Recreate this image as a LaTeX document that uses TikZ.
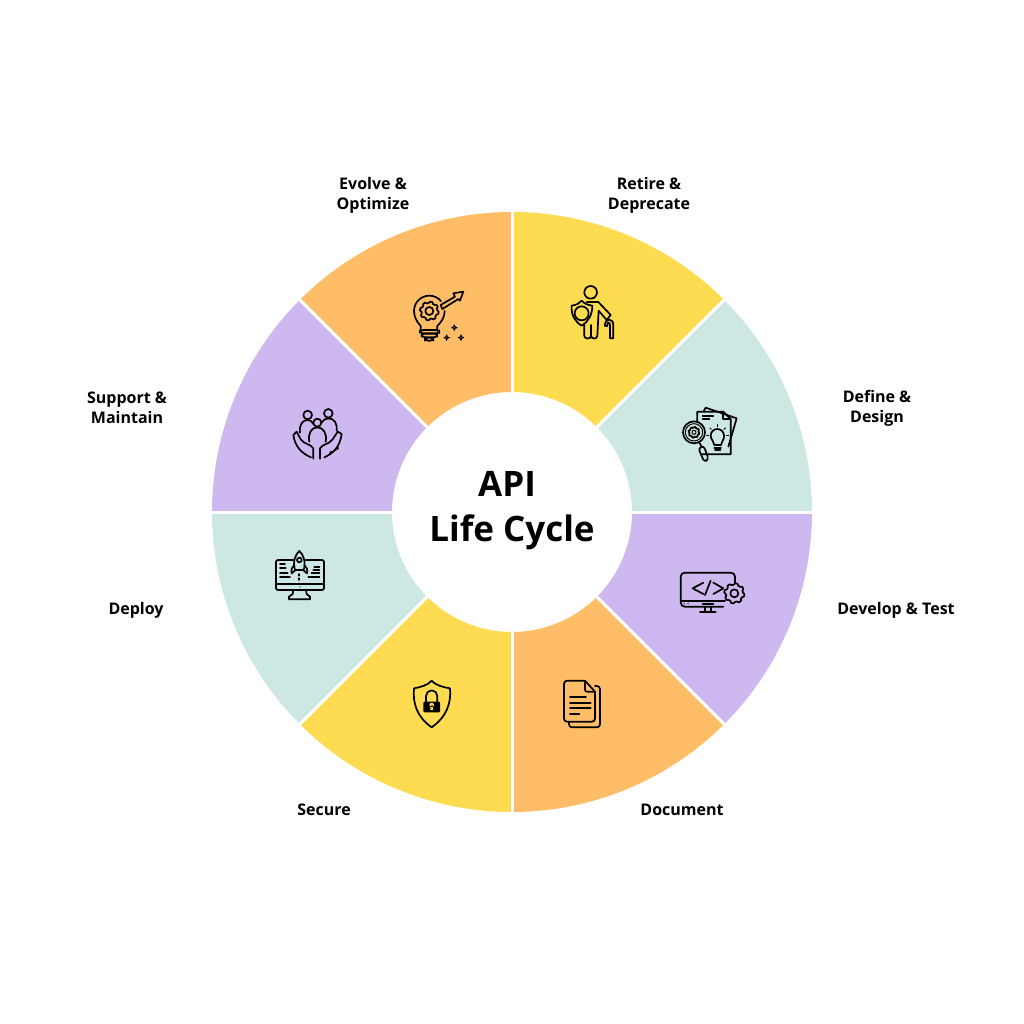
\documentclass[tikz,border=0pt]{standalone}
\usepackage{fontspec}
\setmainfont{Open Sans}
\usetikzlibrary{calc}

\tikzset{
    gearicon/.pic={
        \draw[iconline] plot[domain=0:360,samples=121] (\x:{#1*(1+.14*max(-.6,min(.6,sin(8*\x))))}) -- cycle;
    },
    iconline/.style={draw=black,line width=1.7pt,line join=round,line cap=round},
    crop/.style 2 args={shift={(#1,#2)},x=.3333pt,y=-.3333pt},
    lifelabel/.style={font=\fontsize{16}{20}\selectfont\bfseries,align=center,text=black,inner sep=0pt},
    lifetitle/.style={font=\fontsize{35}{40}\selectfont\bfseries,text=black,inner sep=0pt}
}
\definecolor{lifeyellow}{HTML}{FDDC51}
\definecolor{lifeorange}{HTML}{FFBD68}
\definecolor{lifepurple}{HTML}{CEB8F0}
\definecolor{lifeteal}{HTML}{CDE8E4}

\begin{document}
\begin{tikzpicture}[x=1pt,y=-1pt]
    \useasboundingbox (0,0) rectangle (1024,1024);

    % ring of sectors, clockwise from the top
    \foreach \a/\c in {-90/lifeyellow,-45/lifeteal,0/lifepurple,45/lifeorange,90/lifeyellow,135/lifeteal,180/lifepurple,225/lifeorange}{
        \fill[\c] ($(512,512)+(\a:300)$) arc[start angle=\a,delta angle=45,radius=300] -- ($(512,512)+(\a+45:120)$) arc[start angle=\a+45,delta angle=-45,radius=120] -- cycle;
    }
    \foreach \a in {-90,-45,...,225}{
        \draw[white,line width=3pt] ($(512,512)+(\a:120)$) -- ($(512,512)+(\a:301)$);
    }

    \node[lifetitle] (titletop) at (507,484) {API};
    \node[lifetitle] (titlebottom) at (512,532) {Life Cycle};

    \node[lifelabel] (retire) at (649,195) {Retire \&\\Deprecate};
    \node[lifelabel] (define) at (877,408) {Define \&\\Design};
    \node[lifelabel] (develop) at (896,610) {Develop \& Test};
    \node[lifelabel] (document) at (682,810) {Document};
    \node[lifelabel] (secure) at (324,810) {Secure};
    \node[lifelabel] (deploy) at (136,610) {Deploy};
    \node[lifelabel] (support) at (127,408) {Support \&\\Maintain};
    \node[lifelabel] (evolve) at (373,195) {Evolve \&\\Optimize};

    % evolve: bulb and arrow
    \begin{scope}[crop={400}{270}]
        \draw[iconline] (62,178) -- (62,168) .. controls (50,155) and (42,140) .. (42,123) arc[start angle=180,end angle=320,radius=46] ;
        \draw[iconline] (112,178) -- (112,168) .. controls (124,156) and (134,142) .. (134,123);
        \draw[iconline,rounded corners=3pt] (60,180) rectangle (118,190) (65,191) rectangle (112,202) (75,203) rectangle (100,212);
        \pic at (88,123) {gearicon=26};
        \draw[iconline] (88,123) circle[radius=12];
        \draw[iconline] (122,105) -- (165,80) -- (160,70) -- (190,65) -- (180,92) -- (175,87) -- (127,117) -- cycle;
        \foreach \px/\py in {163/173,140/203,183/203}{
            \draw[iconline,line width=1pt] (\px,\py-8) -- (\px+2,\py-2) -- (\px+8,\py) -- (\px+2,\py+2) -- (\px,\py+8) -- (\px-2,\py+2) -- (\px-8,\py) -- (\px-2,\py-2) -- cycle;
        }
    \end{scope}

    % retire: person with shield and cane
    \begin{scope}[crop={400}{270}]
        \draw[iconline] (572,67) circle[radius=19];
        \draw[iconline] (515,107) .. controls (530,105) and (538,100) .. (545,92) .. controls (552,100) and (562,105) .. (577,107) .. controls (577,135) and (565,155) .. (545,167) .. controls (525,155) and (513,135) .. (515,107);
        \draw[iconline] (545,130) circle[radius=21];
        \draw[iconline] (560,96) -- (595,96) -- (632,135) -- (620,150) -- (596,122) -- (592,198) .. controls (591,208) and (574,208) .. (573,198) -- (573,165);
        \draw[iconline] (553,165) -- (553,198) .. controls (554,208) and (572,208) .. (573,198);
        \draw[iconline] (640,205) -- (640,165) .. controls (640,143) and (613,143) .. (615,168) -- (622,168) .. controls (620,155) and (630,155) .. (630,165) -- (630,205) -- cycle;
    \end{scope}

    % define: sheets, lens and bulb
    \begin{scope}[crop={670}{395}]
        \draw[iconline] (100,50) -- (107,38) -- (200,70) -- (175,155);
        \draw[iconline] (95,178) -- (182,178) -- (182,72) -- (160,50) -- (82,50) -- (82,80);
        \draw[iconline] (160,50) -- (160,72) -- (182,72);
        \draw[iconline] (98,62) -- (130,62) (98,72) -- (118,72);
        \draw[iconline,fill=lifeteal] (72,112) circle[radius=33];
        \draw[iconline,line width=1pt] (72,112) circle[radius=26];
        \pic at (72,112) {gearicon=15};
        \draw[iconline,line width=1pt] (72,112) circle[radius=6];
        \draw[iconline] (88,143) -- (95,155);
        \draw[iconline,rounded corners=3pt] (85,160) -- (101,152) -- (116,193) -- (103,201) -- cycle;
        \draw[iconline] (133,150) .. controls (133,138) and (122,135) .. (122,122) arc[start angle=180,end angle=360,radius=20] .. controls (164,135) and (153,138) .. (153,150) -- cycle;
        \draw[iconline] (133,158) -- (153,158) (135,166) -- (151,166);
        \foreach \a in {-135,-90,-45,0,180}{
            \draw[iconline,line width=1pt] ($(143,122)+(\a:27)$) -- ($(143,122)+(\a:33)$);
        }
    \end{scope}

    % develop: monitor and gear
    \begin{scope}[crop={670}{560}]
        \draw[iconline,rounded corners=4pt] (160,140) -- (32,140) -- (32,38) -- (195,38) -- (195,68);
        \draw[iconline] (32,122) -- (165,122) (98,131) -- (130,131);
        \draw[iconline] (105,140) -- (105,155) (122,140) -- (122,155) (90,157) -- (137,157);
        \fill (42,131) circle[radius=2] (54,131) circle[radius=2];
        \draw[iconline] (100,68) -- (68,85) -- (100,102);
        \draw[iconline] (105,105) -- (122,62);
        \draw[iconline] (130,68) -- (160,85) -- (130,102);
        \pic at (193,100) {gearicon=28};
        \draw[iconline] (193,100) circle[radius=12];
    \end{scope}

    % document: two sheets
    \begin{scope}[crop={400}{670}]
        \draw[iconline,rounded corners=3pt] (585,48) -- (600,48) -- (600,172) -- (507,172) -- (507,155);
        \draw[iconline,rounded corners=3pt] (555,32) -- (492,32) -- (492,155) -- (585,155) -- (585,65);
        \draw[iconline] (555,32) -- (585,65);
        \draw[iconline,rounded corners=2pt] (555,32) -- (555,65) -- (585,65);
        \draw[iconline] (510,82) -- (558,82) (510,98) -- (572,98) (510,114) -- (572,114) (510,131) -- (538,131);
    \end{scope}

    % secure: shield and lock
    \begin{scope}[crop={400}{670}]
        \draw[iconline] (95,32) .. controls (85,45) and (60,52) .. (42,55) .. controls (38,100) and (50,140) .. (95,172) .. controls (140,140) and (154,100) .. (150,55) .. controls (130,52) and (105,45) .. (95,32) -- cycle;
        \draw[iconline] (78,95) -- (78,78) arc[start angle=180,end angle=360,radius=17] -- (112,95);
        \fill[rounded corners=1pt] (70,95) rectangle (120,127);
        \fill[lifeyellow] (95,105) circle[radius=7] (91,107) rectangle (99,120);
    \end{scope}

    % deploy: monitor and rocket
    \begin{scope}[crop={265}{540}]
        \draw[iconline,rounded corners=2pt] (85,60) -- (33,60) -- (33,150) -- (177,150) -- (177,60) -- (122,60);
        \draw[iconline] (33,132) -- (177,132);
        \fill (105,141) circle[radius=2];
        \draw[iconline] (85,150) -- (83,162) -- (72,170) -- (72,178) -- (135,178) -- (135,170) -- (125,162) -- (123,150);
        \draw[iconline] (90,90) .. controls (82,65) and (92,42) .. (103,33) .. controls (114,42) and (124,65) .. (116,90) -- cycle;
        \draw[iconline] (103,60) circle[radius=7];
        \draw[iconline] (88,75) .. controls (80,80) and (78,90) .. (80,100) -- (92,90);
        \draw[iconline] (118,75) .. controls (126,80) and (128,90) .. (126,100) -- (114,90);
        \draw[iconline] (103,102) -- (103,107) (103,115) -- (103,120);
        \draw[iconline] (45,72) -- (60,72) (45,85) -- (62,85) (45,98) -- (68,98) (45,112) -- (75,112);
        \draw[iconline] (148,80) -- (163,80) (145,90) -- (163,90) (140,100) -- (163,100) (130,112) -- (163,112);
    \end{scope}

    % support: hands around family
    \begin{scope}[crop={285}{400}]
        \draw[iconline] (68,45) circle[radius=13] (130,40) circle[radius=13] (97,68) circle[radius=12];
        \draw[iconline] (73,125) .. controls (68,100) and (80,82) .. (97,82) .. controls (114,82) and (127,100) .. (122,125);
        \draw[iconline] (45,98) .. controls (42,75) and (52,60) .. (68,60) .. controls (76,60) and (82,65) .. (85,72);
        \draw[iconline] (110,68) .. controls (114,60) and (122,55) .. (130,55) .. controls (148,55) and (158,72) .. (155,92);
        \draw[iconline] (85,176) -- (85,145) .. controls (75,130) and (60,135) .. (47,118) -- (35,95) -- (25,105) .. controls (30,140) and (50,160) .. (78,172);
        \draw[iconline] (105,176) -- (105,145) .. controls (115,130) and (130,135) .. (143,118) -- (158,95) -- (170,102) .. controls (165,140) and (145,160) .. (118,172);
        \draw[iconline] (135,158) -- (140,155) (147,152) -- (160,144);
    \end{scope}
\end{tikzpicture}
\end{document}
